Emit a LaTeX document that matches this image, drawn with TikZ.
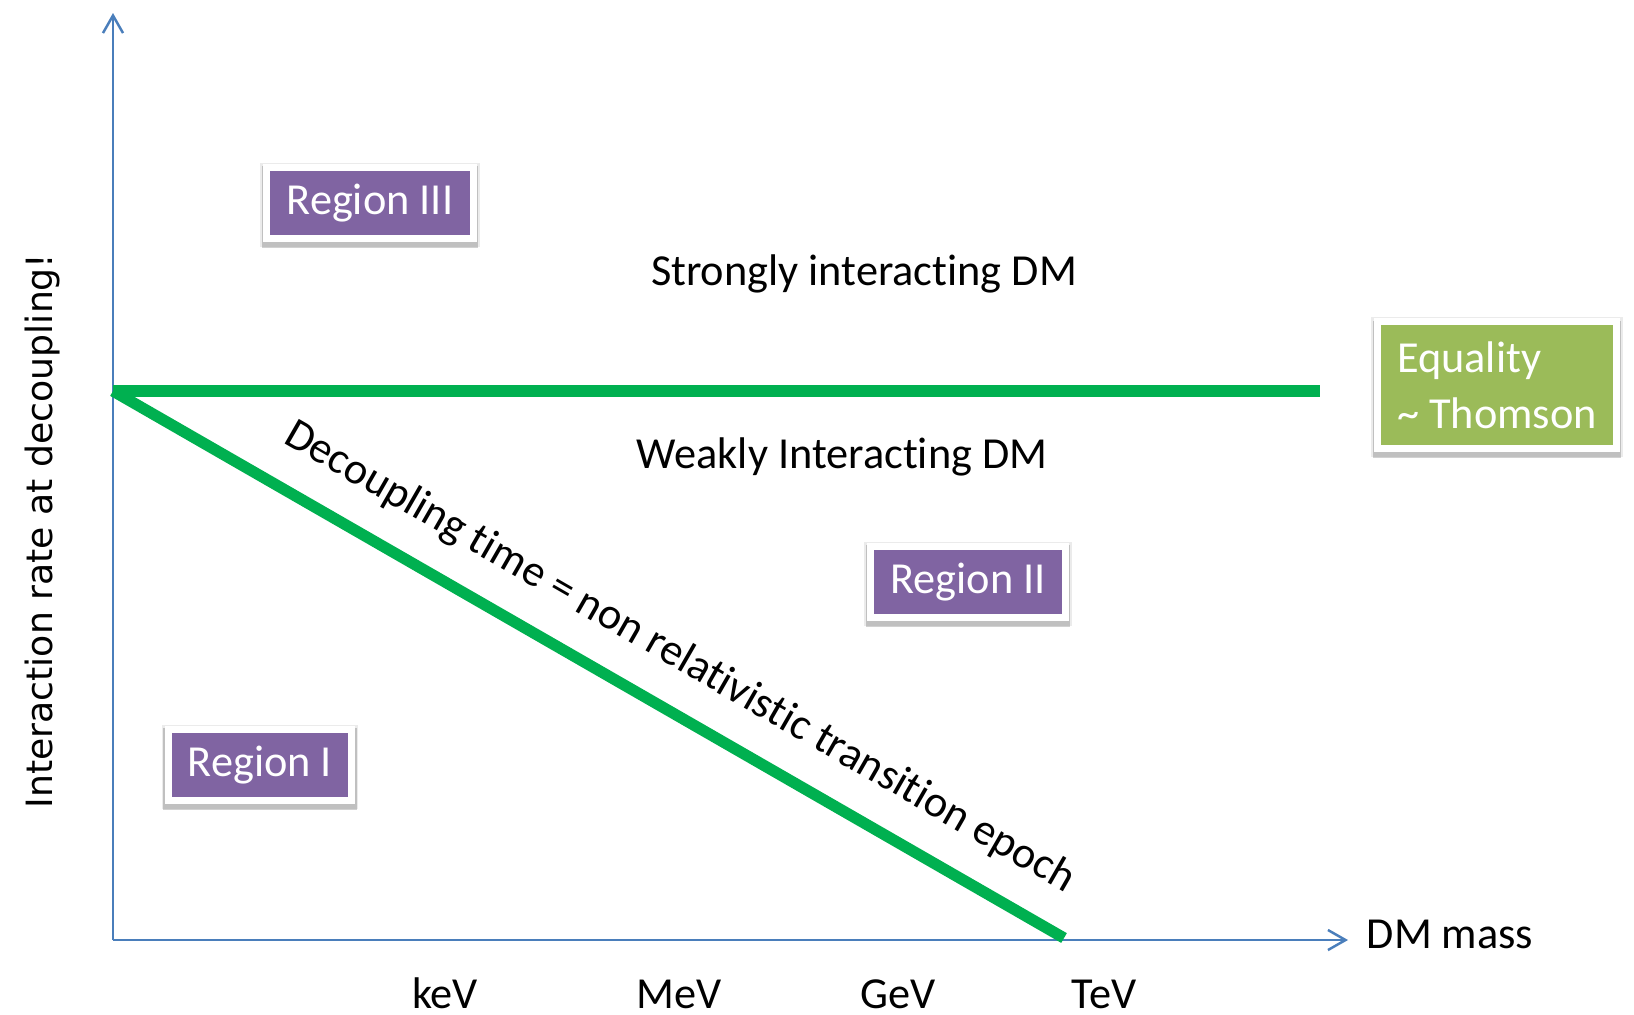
\documentclass[tikz,border=0pt]{standalone}
\usepackage{fontspec}
\setmainfont{Carlito}[Ligatures=NoCommon]
\newfontfamily\ylabelfont{DejaVu Sans}
\usetikzlibrary{arrows.meta,shadows}

\definecolor{axisblue}{HTML}{4A7EBB}
\definecolor{epochgreen}{HTML}{00B050}
\definecolor{regionpurple}{HTML}{8064A2}
\definecolor{thomsongreen}{HTML}{9BBB59}

\tikzset{
  axis/.style={color=axisblue,line width=0.7pt,-{Straight Barb[length=5pt,width=5.7pt]}},
  epoch/.style={color=epochgreen,line width=3.2pt},
  regionbox/.style={fill=regionpurple,draw=white,line width=2pt,text=white,
    minimum height=0.71cm,inner sep=0pt,
    preaction={draw=black,draw opacity=0.08,line width=3.8pt,transform canvas={yshift=-0.6pt}},
    preaction={draw=black,draw opacity=0.18,line width=3pt,transform canvas={yshift=-1.2pt}}},
  plain/.style={font=\fontsize{12.6}{15}\selectfont},
}

\begin{document}
\begin{tikzpicture}[x=0.01cm,y=-0.01cm,plain]
  \useasboundingbox[fill=white] (0,0) rectangle (1634,1014);
  % axes
  \coordinate (o) at (113,940);
  \coordinate (ytop) at (113,13);
  \coordinate (xend) at (1348,940);
  \draw[axis] (o) -- (ytop);
  \draw[axis] (o) -- (xend);
  \node[anchor=base] (xlab) at (1450,948) {DM mass};
  \node[rotate=90,font=\ylabelfont\fontsize{10.3}{12}\selectfont] (ylab) at (43,531) {Interaction rate at decoupling!};
  \node[anchor=base] (kev) at (445,1008) {keV};
  \node[anchor=base] (mev) at (679,1008) {MeV};
  \node[anchor=base] (gev) at (898,1008) {GeV};
  \node[anchor=base] (tev) at (1104,1008) {TeV};
  % green lines
  \coordinate (eq) at (113,391);
  \coordinate (eqend) at (1320,391);
  \coordinate (nr) at (1064,938);
  \draw[epoch] (eq) -- (eqend);
  \draw[epoch] (eq) -- (nr) node[pos=0.569,sloped,above=7.6pt,inner sep=0pt,text=black] (dec) {Decoupling time = non relativistic transition epoch};
  \node (strong) at (864,274) {Strongly interacting DM};
  \node (weak) at (842,457) {Weakly Interacting DM};
  % regions
  \node[regionbox,minimum width=2.06cm] (r3) at (370,203) {Region III};
  \node[regionbox,minimum width=1.94cm] (r2) at (968,582) {Region II};
  \node[regionbox,minimum width=1.83cm] (r1) at (260,765) {Region I};
  \node[regionbox,fill=thomsongreen,minimum width=2.38cm,minimum height=1.26cm,align=left,
    font=\fontsize{12.6}{15.8}\selectfont] (thomson) at (1497,385) {Equality\\\textasciitilde{} Thomson};
\end{tikzpicture}
\end{document}
